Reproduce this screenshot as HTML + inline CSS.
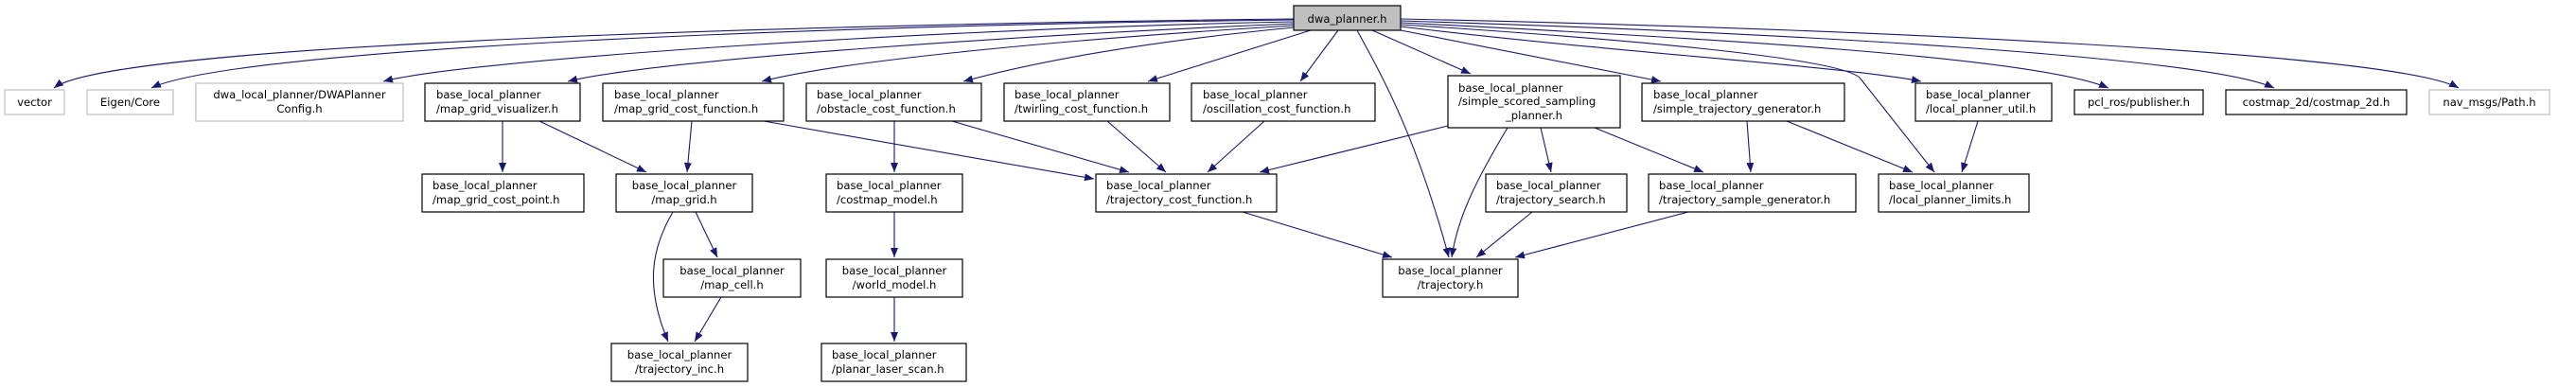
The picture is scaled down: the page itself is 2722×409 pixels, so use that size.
<!DOCTYPE html>
<html><head><meta charset="utf-8"><style>
html,body{margin:0;padding:0;background:#fff;}
svg{display:block;}
text{font-family:"DejaVu Sans","Liberation Sans",sans-serif;font-size:11.6px;fill:#000;}
.n{fill:#fff;stroke:#000;stroke-width:1.2;}
.g{fill:#fff;stroke:#bfbfbf;stroke-width:1.2;}
.e{fill:none;stroke:#191970;stroke-width:1.1;marker-end:url(#a);}
</style></head><body>
<svg width="2722" height="409" viewBox="0 0 2722 409" xmlns="http://www.w3.org/2000/svg">
<defs><marker id="a" markerUnits="userSpaceOnUse" markerWidth="11" markerHeight="8" refX="10" refY="4" orient="auto"><path d="M0,0 L10,4 L0,8 z" fill="#191970"/></marker></defs>

<!-- edges from dwa -->
<path class="e" d="M1367,20 C900,25 120,45 57,93"/>
<path class="e" d="M1367,21 C900,26 250,50 160,93"/>
<path class="e" d="M1367,23 C1000,30 500,62 405,86"/>
<path class="e" d="M1367,25 C1100,36 700,62 600,86"/>
<path class="e" d="M1367,27 C1150,40 900,62 805,86"/>
<path class="e" d="M1367,29 Q1150,50 1018,86"/>
<path class="e" d="M1385,32 L1213,86"/>
<path class="e" d="M1414,32 L1374,86"/>
<path class="e" d="M1434,32 C1460,80 1495,140 1531,272"/>
<path class="e" d="M1450,32 L1554,78"/>
<path class="e" d="M1480,32 L1755,86"/>
<path class="e" d="M1480,28 C1700,55 1950,70 2030,86"/>
<path class="e" d="M1480,26 C1700,40 1940,60 1965,82 L2044,182"/>
<path class="e" d="M1480,24 C1800,40 2150,60 2228,93"/>
<path class="e" d="M1480,22 C1900,35 2330,60 2403,93"/>
<path class="e" d="M1480,20 C1950,30 2530,55 2598,93"/>

<!-- secondary edges -->
<path class="e" d="M531,128 L531,182"/>
<path class="e" d="M570,128 L683,182"/>
<path class="e" d="M731,128 L726,182"/>
<path class="e" d="M807,128 L1156,189"/>
<path class="e" d="M711,224 C690,260 680,300 706,361"/>
<path class="e" d="M735,224 L758,272"/>
<path class="e" d="M762,314 L734,361"/>
<path class="e" d="M945,128 L945,182"/>
<path class="e" d="M945,224 L945,272"/>
<path class="e" d="M945,314 L945,361"/>
<path class="e" d="M1006,128 L1193,182"/>
<path class="e" d="M1170,128 L1232,182"/>
<path class="e" d="M1336,128 L1276,182"/>
<path class="e" d="M1530,133 L1331,182"/>
<path class="e" d="M1593,135 C1560,190 1540,230 1534,272"/>
<path class="e" d="M1628,135 L1639,182"/>
<path class="e" d="M1685,135 L1800,182"/>
<path class="e" d="M1846,128 L1850,182"/>
<path class="e" d="M1888,128 L2021,182"/>
<path class="e" d="M2090,128 L2073,182"/>
<path class="e" d="M1313,224 L1471,272"/>
<path class="e" d="M1619,224 L1560,272"/>
<path class="e" d="M1784,224 L1601,272"/>

<!-- nodes -->
<rect x="1367" y="6" width="113" height="26" fill="#bfbfbf" stroke="#000" stroke-width="1.2"/>
<text x="1423.5" y="24" text-anchor="middle">dwa_planner.h</text>

<rect class="g" x="5" y="95" width="63" height="26"/><text x="36.5" y="112" text-anchor="middle">vector</text>
<rect class="g" x="92" y="95" width="91" height="26"/><text x="137.5" y="112" text-anchor="middle">Eigen/Core</text>
<rect class="g" x="207" y="88" width="219" height="40"/><text x="316.5" y="104" text-anchor="middle">dwa_local_planner/DWAPlanner</text><text x="316.5" y="119" text-anchor="middle">Config.h</text>

<rect class="n" x="449" y="88" width="164" height="40"/><text x="461" y="104">base_local_planner</text><text x="461" y="119">/map_grid_visualizer.h</text>
<rect class="n" x="637" y="88" width="191" height="40"/><text x="649" y="104">base_local_planner</text><text x="649" y="119">/map_grid_cost_function.h</text>
<rect class="n" x="852" y="88" width="185" height="40"/><text x="863" y="104">base_local_planner</text><text x="863" y="119">/obstacle_cost_function.h</text>
<rect class="n" x="1061" y="88" width="175" height="40"/><text x="1072" y="104">base_local_planner</text><text x="1072" y="119">/twirling_cost_function.h</text>
<rect class="n" x="1259" y="88" width="194" height="40"/><text x="1271" y="104">base_local_planner</text><text x="1271" y="119">/oscillation_cost_function.h</text>
<rect class="n" x="1530" y="80" width="182" height="55"/><text x="1541" y="97">base_local_planner</text><text x="1541" y="111">/simple_scored_sampling</text><text x="1621" y="126" text-anchor="middle">_planner.h</text>
<rect class="n" x="1735" y="88" width="214" height="40"/><text x="1747" y="104">base_local_planner</text><text x="1747" y="119">/simple_trajectory_generator.h</text>
<rect class="n" x="2024" y="88" width="144" height="40"/><text x="2035" y="104">base_local_planner</text><text x="2035" y="119">/local_planner_util.h</text>
<rect class="n" x="2192" y="95" width="136" height="26"/><text x="2260" y="112" text-anchor="middle">pcl_ros/publisher.h</text>
<rect class="n" x="2352" y="95" width="191" height="26"/><text x="2447.5" y="112" text-anchor="middle">costmap_2d/costmap_2d.h</text>
<rect class="g" x="2567" y="95" width="127" height="26"/><text x="2630.5" y="112" text-anchor="middle">nav_msgs/Path.h</text>

<rect class="n" x="446" y="184" width="171" height="40"/><text x="457" y="200">base_local_planner</text><text x="457" y="215">/map_grid_cost_point.h</text>
<rect class="n" x="651" y="184" width="144" height="40"/><text x="723" y="200" text-anchor="middle">base_local_planner</text><text x="723" y="215" text-anchor="middle">/map_grid.h</text>
<rect class="n" x="873" y="184" width="144" height="40"/><text x="884" y="200">base_local_planner</text><text x="884" y="215">/costmap_model.h</text>
<rect class="n" x="1158" y="184" width="191" height="40"/><text x="1169" y="200">base_local_planner</text><text x="1169" y="215">/trajectory_cost_function.h</text>
<rect class="n" x="1570" y="184" width="149" height="40"/><text x="1581" y="200">base_local_planner</text><text x="1581" y="215">/trajectory_search.h</text>
<rect class="n" x="1742" y="184" width="219" height="40"/><text x="1753" y="200">base_local_planner</text><text x="1753" y="215">/trajectory_sample_generator.h</text>
<rect class="n" x="1985" y="184" width="159" height="40"/><text x="1996" y="200">base_local_planner</text><text x="1996" y="215">/local_planner_limits.h</text>

<rect class="n" x="701" y="274" width="145" height="40"/><text x="773.5" y="290" text-anchor="middle">base_local_planner</text><text x="773.5" y="305" text-anchor="middle">/map_cell.h</text>
<rect class="n" x="873" y="274" width="144" height="40"/><text x="945" y="290" text-anchor="middle">base_local_planner</text><text x="945" y="305" text-anchor="middle">/world_model.h</text>
<rect class="n" x="1461" y="274" width="143" height="40"/><text x="1532.5" y="290" text-anchor="middle">base_local_planner</text><text x="1532.5" y="305" text-anchor="middle">/trajectory.h</text>

<rect class="n" x="646" y="363" width="144" height="40"/><text x="718" y="379" text-anchor="middle">base_local_planner</text><text x="718" y="394" text-anchor="middle">/trajectory_inc.h</text>
<rect class="n" x="868" y="363" width="153" height="40"/><text x="879" y="379">base_local_planner</text><text x="879" y="394">/planar_laser_scan.h</text>
</svg>
</body></html>
